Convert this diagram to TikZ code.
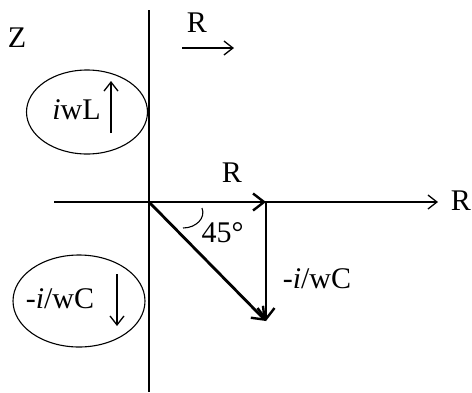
\documentclass[tikz,border=0pt]{standalone}
\usepackage{fontspec}
\setmainfont{Liberation Serif}
\usetikzlibrary{shapes.geometric,arrows.meta}
\begin{document}
\begin{tikzpicture}[x=1pt,y=-1pt,
  thinline/.style={line width=1.1pt},
  thickline/.style={line width=2.8pt},
  thinarrow/.style={thinline,-{Straight Barb[length=9pt,width=14pt,line width=1.3pt]}},
  thickarrow/.style={thickline,-{Straight Barb[length=11pt,width=17pt,line width=2.4pt]}},
  lbl/.style={inner sep=0pt,anchor=base,font=\fontsize{30}{34}\selectfont},
  oval/.style={ellipse,draw,thinline,inner sep=0pt}]
\useasboundingbox (0,0) rectangle (472,392);
% axes
\coordinate (vtop) at (149,10);
\coordinate (vbot) at (149,392);
\coordinate (hl) at (54,202);
\coordinate (hr) at (438,202);
\coordinate (O) at (149,202);
\coordinate (A) at (266,202);
\coordinate (B) at (266,321);
\draw[thinline] (vtop) -- (vbot);
\draw[thinarrow] (hl) -- (hr);
\node[lbl] (Rax) at (461,210) {R};
\node[lbl] (Z) at (17,47) {Z};
% top R arrow
\node[lbl] (Rtop) at (197,32) {R};
\coordinate (ta1) at (182,48);
\coordinate (ta2) at (234,48);
\draw[thinarrow] (ta1) -- (ta2);
% triangle
\draw[thickarrow] (O) -- (A);
\draw[thickarrow] (A) -- (B);
\draw[thickarrow] (O) -- (B);
\node[lbl] (Rlab) at (232,182) {R};
\node[lbl] (Clab) at (317,288) {-\textit{i}/wC};
% angle
\coordinate (arc1) at (202,208);
\coordinate (arc2) at (183,228);
\draw[thinline] (arc1) .. controls (206,218) and (196,228) .. (arc2);
\node[lbl] (ang) at (222.5,242) {45°};
% ellipses
\node[oval,minimum width=121pt,minimum height=84pt] (E1) at (87,112) {};
\node[lbl] (L) at (76.5,119) {\textit{i}wL};
\coordinate (la1) at (111,133);
\coordinate (la2) at (111,81);
\draw[thinarrow] (la1) -- (la2);
\node[oval,minimum width=132pt,minimum height=92pt] (E2) at (79,301) {};
\node[lbl] (C) at (60,308) {-\textit{i}/wC};
\coordinate (ca1) at (117,274);
\coordinate (ca2) at (117,326);
\draw[thinarrow] (ca1) -- (ca2);
\end{tikzpicture}
\end{document}
